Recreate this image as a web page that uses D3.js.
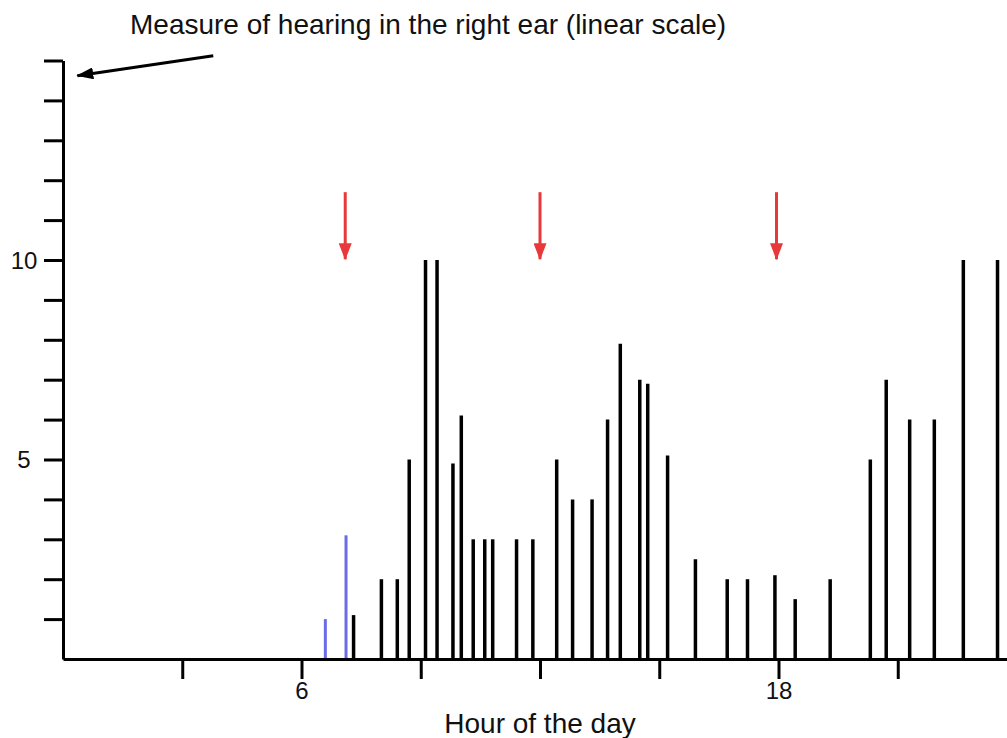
<!DOCTYPE html>
<html>
<head>
<meta charset="utf-8">
<script src="https://cdn.jsdelivr.net/npm/d3@7"></script>
<style>
  html, body { margin: 0; padding: 0; background: #fff; }
  svg { display: block; font-family: "Liberation Sans", Arial, sans-serif; }
</style>
</head>
<body>
<div id="chart"></div>
<script>
// hearing measurements: hour of the day -> level
const blueHours = [6.6, 7.12]
const blueValues = [1.0, 3.1]
const blackHours = [7.31, 8.01, 8.41, 8.71, 9.12, 9.41, 9.81, 10.02, 10.32, 10.61, 10.81,
  11.41, 11.82, 12.42, 12.82, 13.31, 13.7, 14.02, 14.51, 14.71, 15.21, 15.91, 16.71,
  17.22, 17.91, 18.42, 19.3, 20.31, 20.71, 21.3, 21.92, 22.65, 23.51]
const blackValues = [1.1, 2, 2, 5, 10, 10, 4.9, 6.1, 3, 3, 3,
  3, 3, 5, 4, 4, 6, 7.9, 7, 6.9, 5.1, 2.5, 2,
  2, 2.1, 1.5, 2, 5, 7, 6, 6, 10, 10]
const xTicks = [3, 6, 9, 12, 15, 18, 21]
const xLabels = [6, 18]
const yTicks = d3.range(1, 16)
const yLabels = [5, 10]
const redArrowHours = [7.1, 12, 17.95]

const width = 1007
const height = 738

const svg = d3.select('#chart')
  .append('svg')
  .attr('width', width)
  .attr('height', height)

const x = d3.scaleLinear().domain([0, 24]).range([63, 63 + 24 * 39.75])
const y = d3.scaleLinear().domain([0, 15]).range([659, 60.5])

const defs = svg.append('defs')
defs.append('marker')
  .attr('id', 'redHead')
  .attr('markerUnits', 'userSpaceOnUse')
  .attr('viewBox', '0 0 17 13')
  .attr('refX', 16).attr('refY', 6.5)
  .attr('markerWidth', 17).attr('markerHeight', 13)
  .attr('orient', 'auto')
  .append('path').attr('d', 'M0,0 L17,6.5 L0,13 Z').attr('fill', '#e8383a')
defs.append('marker')
  .attr('id', 'blackHead')
  .attr('markerUnits', 'userSpaceOnUse')
  .attr('viewBox', '0 0 17 12')
  .attr('refX', 16).attr('refY', 6)
  .attr('markerWidth', 17).attr('markerHeight', 12)
  .attr('orient', 'auto')
  .append('path').attr('d', 'M0,0 L17,6 L0,12 Z').attr('fill', '#000')

// bars
svg.append('g')
  .selectAll('line')
  .data(blackHours.map((h, i) => ({ h, v: blackValues[i] })))
  .join('line')
  .attr('x1', d => x(d.h)).attr('x2', d => x(d.h))
  .attr('y1', y(0)).attr('y2', d => y(d.v))
  .attr('stroke', '#000')
  .attr('stroke-width', 3.5)

svg.append('g')
  .selectAll('line')
  .data(blueHours.map((h, i) => ({ h, v: blueValues[i] })))
  .join('line')
  .attr('x1', d => x(d.h)).attr('x2', d => x(d.h))
  .attr('y1', y(0)).attr('y2', d => y(d.v))
  .attr('stroke', '#6b6be8')
  .attr('stroke-width', 3)

// axes
const yAxis = svg.append('g')
  .attr('transform', `translate(${x(0)},0)`)
  .call(d3.axisLeft(y)
    .tickValues(yTicks)
    .tickSize(19)
    .tickSizeOuter(0)
    .tickFormat(d => yLabels.includes(d) ? d : ''))
yAxis.selectAll('path, line').attr('stroke', '#000').attr('stroke-width', 3)
yAxis.selectAll('text')
  .attr('x', -39)
  .attr('text-anchor', 'middle')
  .attr('dy', '0.35em')
  .attr('font-size', 24)
  .attr('font-family', '"Liberation Sans", Arial, sans-serif')
  .attr('fill', '#111')

const xAxis = svg.append('g')
  .attr('transform', `translate(0,${y(0)})`)
  .call(d3.axisBottom(x)
    .tickValues(xTicks)
    .tickSize(20)
    .tickSizeOuter(0)
    .tickFormat(d => xLabels.includes(d) ? d : ''))
xAxis.selectAll('path, line').attr('stroke', '#000').attr('stroke-width', 3)
xAxis.selectAll('text')
  .attr('y', 40)
  .attr('dy', 0)
  .attr('font-size', 24)
  .attr('font-family', '"Liberation Sans", Arial, sans-serif')
  .attr('fill', '#111')

// red arrows
svg.append('g')
  .selectAll('line')
  .data(redArrowHours)
  .join('line')
  .attr('x1', d => x(d)).attr('x2', d => x(d))
  .attr('y1', y(11.7)).attr('y2', y(10.02))
  .attr('stroke', '#e8383a')
  .attr('stroke-width', 3)
  .attr('marker-end', 'url(#redHead)')

// pointer to the y axis
svg.append('line')
  .attr('x1', x(3.78)).attr('y1', y(15.12))
  .attr('x2', x(0.36)).attr('y2', y(14.62))
  .attr('stroke', '#000')
  .attr('stroke-width', 3)
  .attr('marker-end', 'url(#blackHead)')

svg.append('text')
  .attr('x', 130).attr('y', 34)
  .attr('font-size', 28)
  .attr('fill', '#111')
  .text('Measure of hearing in the right ear (linear scale)')

svg.append('text')
  .attr('x', 540).attr('y', 733)
  .attr('text-anchor', 'middle')
  .attr('font-size', 28)
  .attr('fill', '#111')
  .text('Hour of the day')
</script>
</body>
</html>
